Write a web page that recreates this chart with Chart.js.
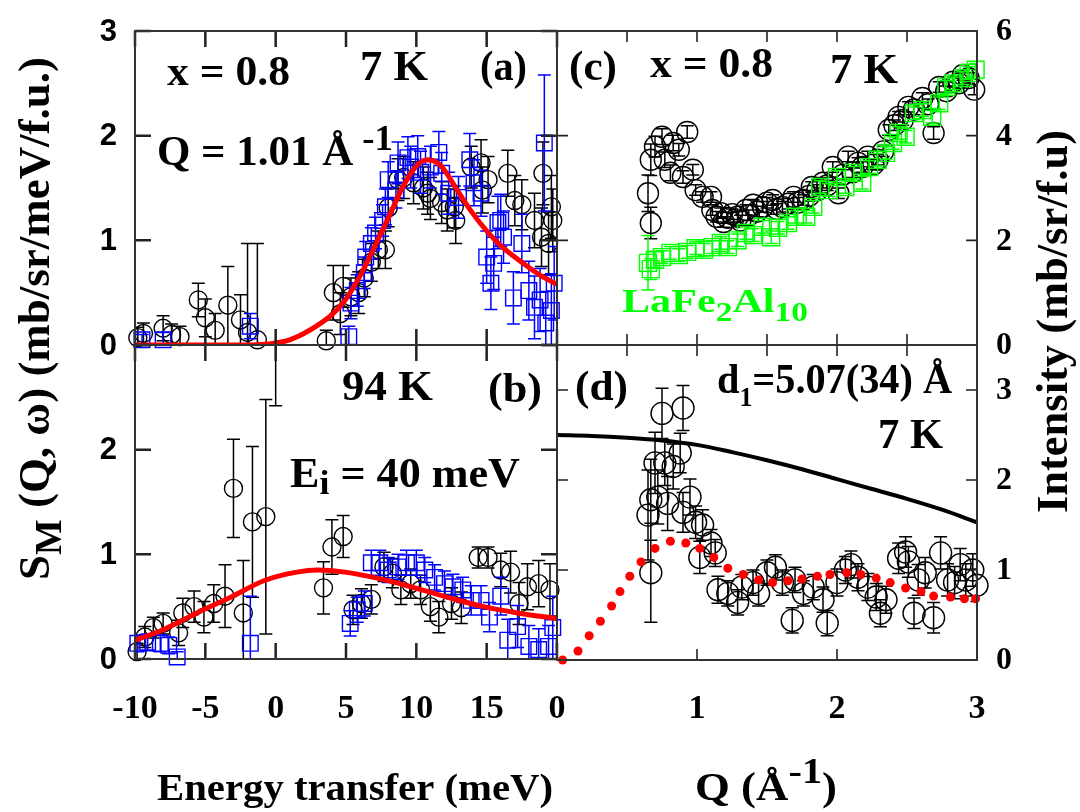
<!DOCTYPE html>
<html>
<head>
<meta charset="utf-8">
<script src="https://cdn.jsdelivr.net/npm/chart.js@4.4.0/dist/chart.umd.min.js"></script>
<style>
  html, body { margin: 0; padding: 0; background: #fff; }
  #wrap { position: relative; width: 1080px; height: 812px; overflow: hidden; }
  #wrap canvas { position: absolute; left: 0; top: 0; }
</style>
</head>
<body>
<div id="wrap">
  <canvas id="pa" width="1080" height="812"></canvas>
  <canvas id="pb" width="1080" height="812"></canvas>
  <canvas id="pc" width="1080" height="812"></canvas>
  <canvas id="pd" width="1080" height="812"></canvas>
</div>
<script>
// ---------- (a) x = 0.8, 7 K, Q = 1.01 Å^-1 ----------
const aCircE = [-9.8,-9.4,-8.0,-7.4,-6.8,-5.5,-5.0,-4.3,-3.4,-2.5,-2.0,-1.3,3.6,4.1,4.6,4.8,5.35,5.9,6.3,6.8,7.3,7.8,8.0,8.7,9.1,9.8,10.5,10.8,11.0,11.8,12.2,12.7,12.8,13.9,14.6,14.7,15.1,16.5,17.0,17.5,18.4,18.9,19.0,19.4,19.6,19.7];
const aCircS = [0.07,0.11,0.16,0.10,0.08,0.43,0.26,0.14,0.38,0.24,0.12,0.05,0.04,0.50,0.30,0.56,0.46,0.50,0.64,0.79,0.91,0.91,1.31,1.58,1.60,1.55,1.50,1.45,1.40,1.36,1.29,1.32,1.19,1.70,1.74,1.48,1.58,1.64,1.38,1.34,1.19,1.03,1.64,0.97,1.32,1.19];
const aCircErr = [0.10,0.10,0.12,0.10,0.10,0.16,0.18,0.16,0.37,0.24,0.85,0.92,0.10,0.26,0.20,0.20,0.18,0.20,0.18,0.18,0.18,0.18,0.18,0.20,0.20,0.20,0.20,0.20,0.20,0.20,0.20,0.20,0.22,0.20,0.22,0.22,0.22,0.22,0.24,0.24,0.26,0.28,0.30,0.30,0.30,0.30];
const aSqE = [-9.5,-8.0,-1.8,5.2,5.35,5.8,6.3,6.4,6.8,7.1,7.6,7.8,8.0,8.55,8.7,9.4,9.6,10.1,10.3,11.0,11.6,11.8,12.3,13.0,13.8,14.1,14.6,15.0,15.3,15.5,15.8,16.0,16.2,16.9,17.5,18.0,18.4,18.8,19.1,19.2,19.6,19.8];
const aSqS = [0.05,0.05,0.18,0.08,0.40,0.52,0.69,0.84,0.97,1.07,1.19,1.32,1.58,1.48,1.74,1.79,1.70,1.80,1.65,1.70,1.84,1.64,1.45,1.41,1.77,1.55,1.45,0.84,0.59,0.78,1.17,1.19,1.03,0.45,0.97,0.52,0.36,0.43,1.93,0.21,0.33,0.59];
const aSqErr = [0.05,0.07,0.12,0.10,0.15,0.15,0.15,0.15,0.15,0.15,0.15,0.17,0.17,0.17,0.20,0.20,0.20,0.20,0.20,0.20,0.20,0.20,0.20,0.20,0.25,0.22,0.22,0.25,0.25,0.25,0.25,0.25,0.25,0.25,0.28,0.28,0.30,0.30,0.65,0.30,0.35,0.35];
const aFitE = [-10,-6,-3,-1,0,1,2,3,4,5,6,7,8,9,10,10.8,11.5,12,13,14,15,16,17,18,19,20];
const aFitS = [0,0,0,0.005,0.02,0.05,0.11,0.19,0.29,0.44,0.66,0.93,1.21,1.50,1.71,1.77,1.74,1.67,1.46,1.26,1.09,0.95,0.84,0.74,0.65,0.58];

// ---------- (b) 94 K, Ei = 40 meV ----------
const bCircE = [-9.85,-9.3,-8.7,-8.0,-6.9,-6.6,-5.8,-5.1,-4.4,-3.6,-3.0,-2.3,-1.65,-0.7,0.0,3.4,4.0,4.8,5.5,6.1,6.8,7.7,8.3,8.9,9.6,10.3,11.0,11.6,12.5,13.2,14.4,15.1,16.0,16.7,17.3,17.9,18.7,19.5];
const bCircS = [0.07,0.21,0.30,0.34,0.25,0.44,0.50,0.40,0.53,0.60,1.63,0.44,1.31,1.36,3.45,0.68,1.07,1.17,0.47,0.53,0.57,0.88,0.82,0.66,0.72,0.66,0.50,0.40,0.53,0.49,0.97,0.97,0.85,0.83,0.53,0.69,0.72,0.66];
const bCircErr = [0.08,0.10,0.10,0.10,0.12,0.14,0.15,0.15,0.18,0.30,0.47,0.50,0.72,1.12,1.03,0.25,0.26,0.20,0.14,0.14,0.14,0.14,0.14,0.14,0.14,0.14,0.14,0.15,0.15,0.15,0.10,0.10,0.16,0.20,0.20,0.22,0.22,0.25];
const bSqE = [-9.8,-9.1,-8.2,-7.6,-7.0,-1.8,5.3,5.8,6.3,6.8,7.4,8.0,8.7,9.3,10.0,10.6,11.3,12.0,12.6,13.3,13.9,14.6,15.2,16.0,16.5,17.2,18.0,18.7,19.4,19.7];
const bSqS = [0.15,0.16,0.15,0.13,0.02,0.15,0.34,0.47,0.53,0.92,0.92,0.85,0.88,0.92,0.92,0.85,0.78,0.72,0.69,0.66,0.56,0.56,0.40,0.60,0.18,0.31,0.12,0.09,0.12,0.30];
const bSqErr = [0.08,0.08,0.08,0.08,0.05,0.45,0.12,0.12,0.12,0.12,0.12,0.12,0.12,0.12,0.12,0.12,0.12,0.12,0.12,0.12,0.14,0.14,0.14,0.18,0.20,0.20,0.20,0.20,0.20,0.30];
const bFitE = [-10,-8,-5.6,-3.2,-0.8,1.5,3.0,4.9,7.3,9.9,12.5,14.8,17.2,20];
const bFitS = [0.18,0.28,0.44,0.59,0.75,0.83,0.85,0.83,0.77,0.68,0.58,0.50,0.44,0.385];

// ---------- (c) x = 0.8 and LaFe2Al10, 7 K ----------
const cCircQ = [0.65,0.67,0.67,0.70,0.75,0.77,0.81,0.83,0.87,0.90,0.93,0.97,0.99,1.04,1.10,1.11,1.14,1.17,1.19,1.22,1.25,1.29,1.31,1.35,1.37,1.40,1.43,1.47,1.50,1.54,1.57,1.61,1.65,1.69,1.72,1.76,1.80,1.82,1.86,1.90,1.93,1.97,2.01,2.04,2.08,2.11,2.15,2.18,2.22,2.26,2.29,2.33,2.37,2.41,2.44,2.47,2.51,2.55,2.61,2.65,2.69,2.73,2.78,2.83,2.87,2.90,2.94,2.98];
const cCircI = [2.90,2.33,3.54,3.79,3.98,3.54,3.29,3.86,3.73,3.21,4.07,3.35,2.96,2.83,2.83,2.58,2.45,2.52,2.35,2.43,2.50,2.45,2.38,2.58,2.48,2.68,2.55,2.64,2.72,2.77,2.60,2.64,2.70,2.83,2.72,2.77,2.85,3.02,2.96,3.10,3.05,3.40,2.90,3.25,3.60,3.30,3.48,3.40,3.60,3.45,3.54,3.70,4.11,4.20,4.36,4.30,4.55,4.50,4.72,4.60,4.05,4.93,4.85,5.03,5.00,5.16,5.10,4.88];
const cCircErr = [0.35,0.30,0.30,0.20,0.15,0.15,0.15,0.15,0.12,0.12,0.12,0.10,0.10,0.10,0.10,0.10,0.10,0.10,0.10,0.10,0.10,0.10,0.10,0.10,0.10,0.10,0.10,0.10,0.10,0.10,0.10,0.10,0.10,0.10,0.10,0.10,0.10,0.10,0.10,0.10,0.10,0.10,0.10,0.10,0.10,0.10,0.10,0.10,0.10,0.10,0.10,0.10,0.10,0.10,0.10,0.10,0.10,0.10,0.10,0.10,0.12,0.10,0.10,0.10,0.10,0.10,0.10,0.10];
const cSqQ = [0.65,0.67,0.70,0.75,0.81,0.87,0.93,0.99,1.05,1.11,1.17,1.22,1.29,1.35,1.40,1.47,1.53,1.58,1.65,1.70,1.78,1.83,1.88,1.94,2.00,2.06,2.12,2.18,2.23,2.29,2.35,2.40,2.44,2.49,2.55,2.61,2.68,2.73,2.78,2.83,2.90,2.94,2.99];
const cSqI = [1.57,1.45,1.63,1.68,1.76,1.72,1.78,1.85,1.82,1.87,1.95,1.87,2.00,2.14,2.10,2.26,2.06,2.24,2.33,2.45,2.45,2.64,3.02,2.96,3.21,3.02,3.29,3.10,3.40,3.54,3.67,3.86,4.05,3.98,4.43,4.49,4.36,4.62,4.93,5.00,5.10,5.20,5.26];
const cSqErr = [0.52,0.20,0.15,0.12,0.12,0.12,0.12,0.12,0.12,0.12,0.12,0.12,0.12,0.12,0.12,0.12,0.12,0.12,0.12,0.12,0.12,0.12,0.12,0.12,0.12,0.12,0.12,0.12,0.12,0.12,0.12,0.12,0.12,0.12,0.12,0.12,0.12,0.12,0.12,0.12,0.12,0.12,0.12];

// ---------- (d) magnetic part, 7 K ----------
const dCircQ = [0.67,0.65,0.67,0.70,0.75,0.72,0.79,0.77,0.83,0.88,0.90,0.90,0.95,0.99,1.02,1.04,1.10,1.13,1.15,1.22,1.29,1.32,1.40,1.44,1.50,1.56,1.61,1.68,1.70,1.76,1.83,1.90,1.93,2.00,2.06,2.10,2.15,2.22,2.28,2.31,2.35,2.44,2.49,2.51,2.55,2.58,2.63,2.69,2.74,2.79,2.84,2.88,2.92,2.97,3.00];
const dCircI = [0.97,1.61,1.78,2.19,2.74,1.81,1.74,2.19,2.15,2.30,2.80,1.64,1.81,1.53,1.14,1.50,1.30,1.19,0.78,0.74,0.64,0.81,0.86,0.74,0.97,1.03,0.86,0.44,0.89,0.74,0.81,0.67,0.41,0.86,1.00,1.06,0.92,0.81,0.70,0.52,0.67,1.13,1.20,1.09,0.52,0.89,0.97,0.47,1.19,0.89,0.86,1.06,0.89,1.00,0.83];
const dCircErr = [0.55,0.50,0.45,0.34,0.28,0.30,0.30,0.25,0.25,0.22,0.25,0.22,0.20,0.18,0.18,0.17,0.15,0.15,0.15,0.14,0.14,0.14,0.14,0.14,0.14,0.14,0.14,0.14,0.14,0.14,0.14,0.14,0.14,0.15,0.15,0.15,0.15,0.15,0.15,0.15,0.15,0.17,0.17,0.17,0.17,0.17,0.17,0.17,0.18,0.18,0.18,0.18,0.18,0.18,0.18];
const dCalcQ = [0.04,0.15,0.23,0.31,0.39,0.45,0.52,0.60,0.70,0.81,0.92,1.02,1.12,1.22,1.33,1.44,1.54,1.65,1.75,1.86,1.95,2.07,2.17,2.28,2.38,2.49,2.60,2.69,2.81,2.91,2.99];
const dCalcI = [0.00,0.10,0.27,0.43,0.60,0.76,0.93,1.09,1.24,1.32,1.30,1.24,1.14,1.02,0.95,0.89,0.86,0.88,0.90,0.93,0.95,0.97,0.95,0.91,0.86,0.80,0.76,0.71,0.70,0.68,0.68];
const dFormQ = [0,0.25,0.5,0.75,1.0,1.25,1.5,1.75,2.0,2.25,2.5,2.75,3.0];
const dFormI = [2.50,2.49,2.47,2.44,2.39,2.31,2.22,2.12,2.01,1.90,1.79,1.67,1.53];

// ---------- ticks ----------
const energyTicks = [-10,-5,0,5,10,15,20];
const energyTickLabels = ['-10','-5','0','5','10','15'];
const sTicks = [0,1,2,3];
const qMinorTicks = [0,0.5,1,1.5,2,2.5,3];
const qTicks = [0,1,2,3];
const qTickLabels = ['0','1','2','3'];
const cTicks = [0,2,4,6];
const dTicks = [0,1,2,3];

const SERIF = '"Liberation Serif", "Times New Roman", serif';
const SANS = '"Liberation Sans", Arial, sans-serif';
const W = 1080, H = 812;

const pts = (xs, ys) => xs.map((x, i) => ({ x, y: ys[i] }));

function markers(xs, ys, errs, style, color, radius) {
  return {
    data: pts(xs, ys), showLine: false,
    pointStyle: style, pointRadius: radius, pointHoverRadius: radius,
    pointBorderColor: color, pointBackgroundColor: 'rgba(0,0,0,0)', pointBorderWidth: 1.4,
    errors: errs, errColor: color, clip: 12
  };
}
function curve(xs, ys, color, width) {
  return {
    data: pts(xs, ys), showLine: true, borderColor: color, borderWidth: width,
    pointRadius: 0, cubicInterpolationMode: 'monotone', fill: false
  };
}

// vertical error bars with caps, drawn just before each dataset's markers
const errorBars = {
  id: 'errorBars',
  beforeDatasetDraw(chart, args) {
    const ds = chart.data.datasets[args.index];
    if (!ds.errors) return;
    const { ctx, chartArea: ca, scales: { x, y } } = chart;
    const cap = ds.capHalf || 6.5;
    ctx.save();
    ctx.beginPath();
    ctx.rect(ca.left, ca.top, ca.right - ca.left, ca.bottom - ca.top);
    ctx.clip();
    ctx.strokeStyle = ds.errColor;
    ctx.lineWidth = 1.5;
    ctx.beginPath();
    ds.data.forEach((p, i) => {
      const e = ds.errors[i];
      const px = x.getPixelForValue(p.x);
      const y1 = y.getPixelForValue(p.y + e), y2 = y.getPixelForValue(p.y - e);
      ctx.moveTo(px, y1); ctx.lineTo(px, y2);
      ctx.moveTo(px - cap, y1); ctx.lineTo(px + cap, y1);
      ctx.moveTo(px - cap, y2); ctx.lineTo(px + cap, y2);
    });
    ctx.stroke();
    ctx.restore();
  }
};

// rich text: parts with optional size factor s and baseline offset dy, fitted to width w
function drawRich(ctx, t) {
  const fam = t.family || SERIF;
  const parts = t.parts.map(p => (typeof p === 'string' ? { t: p } : Object.assign({}, p)));
  let nat = 0;
  parts.forEach(p => {
    ctx.font = `bold ${Math.round(t.size * (p.s || 1))}px ${fam}`;
    p.w = ctx.measureText(p.t).width;
    nat += p.w;
  });
  const sx = t.w ? t.w / nat : 1;
  ctx.save();
  ctx.translate(t.x, t.y);
  if (t.rot) ctx.rotate(t.rot);
  ctx.scale(sx, 1);
  ctx.fillStyle = t.color || '#000';
  ctx.textAlign = 'left';
  ctx.textBaseline = 'alphabetic';
  let cx = 0;
  parts.forEach(p => {
    ctx.font = `bold ${Math.round(t.size * (p.s || 1))}px ${fam}`;
    ctx.fillText(p.t, cx, p.dy || 0);
    cx += p.w;
  });
  ctx.restore();
}

function makeDeco(name, d) {
  return {
    id: 'deco_' + name,
    afterDraw(chart) {
      const { ctx, chartArea: ca, scales: { x, y } } = chart;
      ctx.save();
      // ticks
      ctx.strokeStyle = '#222';
      ctx.lineWidth = d.tickWidth;
      ctx.beginPath();
      (d.xBottom || []).forEach(v => { const p = x.getPixelForValue(v); ctx.moveTo(p, ca.bottom); ctx.lineTo(p, ca.bottom - d.len); });
      (d.xTop || []).forEach(v => { const p = x.getPixelForValue(v); ctx.moveTo(p, ca.top); ctx.lineTo(p, ca.top + d.len); });
      (d.yLeft || []).forEach(v => { const p = y.getPixelForValue(v); ctx.moveTo(ca.left, p); ctx.lineTo(ca.left + d.len, p); });
      (d.yRight || []).forEach(v => { const p = y.getPixelForValue(v); ctx.moveTo(ca.right, p); ctx.lineTo(ca.right - d.len, p); });
      ctx.stroke();
      // frame
      ctx.lineWidth = 2;
      ctx.strokeStyle = '#333';
      ctx.strokeRect(ca.left, ca.top, ca.right - ca.left, ca.bottom - ca.top);
      // tick labels
      ctx.fillStyle = '#000';
      if (d.yLabels) {
        const L = d.yLabels;
        ctx.font = L.font; ctx.textAlign = L.align; ctx.textBaseline = 'middle';
        L.vals.forEach((v, i) => ctx.fillText(L.texts[i], L.x, y.getPixelForValue(v) + 1));
      }
      if (d.xLabels) {
        const L = d.xLabels;
        ctx.font = L.font; ctx.textAlign = 'center'; ctx.textBaseline = 'alphabetic';
        L.vals.forEach((v, i) => ctx.fillText(L.texts[i], x.getPixelForValue(v), L.y));
      }
      (d.texts || []).forEach(t => drawRich(ctx, t));
      ctx.restore();
    }
  };
}

function makeChart(id, area, xr, yr, datasets, deco) {
  return new Chart(document.getElementById(id), {
    type: 'scatter',
    data: { datasets },
    options: {
      responsive: false, animation: false, devicePixelRatio: 1, events: [],
      layout: { padding: { left: area.l, top: area.t, right: W - area.r, bottom: H - area.b } },
      plugins: { legend: { display: false }, tooltip: { enabled: false } },
      scales: {
        x: { type: 'linear', min: xr[0], max: xr[1], display: false },
        y: { type: 'linear', min: yr[0], max: yr[1], display: false }
      }
    },
    plugins: [errorBars, makeDeco(id, deco)]
  });
}

const leftTickFont = `bold 31px ${SANS}`;
const rightTickFont = `bold 32px ${SERIF}`;
const bottomTickFont = `bold 34px ${SERIF}`;

// (a)
makeChart('pa', { l: 135, t: 31, r: 557, b: 345 }, [-10, 20], [0, 3], [
  curve(aFitE, aFitS, '#ff0000', 5),
  markers(aSqE, aSqS, aSqErr, 'rect', '#0000ff', 11),
  markers(aCircE, aCircS, aCircErr, 'circle', '#000000', 9)
], {
  len: 16, tickWidth: 2.5,
  xTop: energyTicks, xBottom: energyTicks, yLeft: sTicks, yRight: sTicks,
  yLabels: { vals: sTicks, texts: ['0', '1', '2', '3'], x: 117, align: 'right', font: leftTickFont },
  texts: [
    { parts: ['x = 0.8'], x: 167, y: 85, size: 42, w: 123 },
    { parts: ['7 K'], x: 360, y: 80, size: 42, w: 68 },
    { parts: ['(a)'], x: 480, y: 80, size: 42, w: 47 },
    { parts: ['Q = 1.01 Å', { t: ' -1', s: 0.85, dy: -15 }], x: 157, y: 165, size: 42, w: 236 }
  ]
});

// (b)
makeChart('pb', { l: 135, t: 345, r: 557, b: 659 }, [-10, 20], [0, 3], [
  curve(bFitE, bFitS, '#ff0000', 5),
  markers(bSqE, bSqS, bSqErr, 'rect', '#0000ff', 11),
  markers(bCircE, bCircS, bCircErr, 'circle', '#000000', 9)
], {
  len: 16, tickWidth: 2.5,
  xTop: energyTicks, xBottom: energyTicks, yLeft: sTicks, yRight: sTicks,
  yLabels: { vals: [0, 1, 2], texts: ['0', '1', '2'], x: 117, align: 'right', font: leftTickFont },
  xLabels: { vals: [-10, -5, 0, 5, 10, 15], texts: energyTickLabels, y: 718, font: bottomTickFont },
  texts: [
    { parts: ['94 K'], x: 342, y: 400, size: 42, w: 91 },
    { parts: ['(b)'], x: 488, y: 402, size: 42, w: 54 },
    { parts: ['E', { t: 'i', s: 0.8, dy: 7 }, ' = 40 meV'], x: 290, y: 487, size: 42, w: 230 },
    { parts: ['Energy transfer (meV)'], x: 157, y: 800, size: 38, w: 396 },
    { parts: ['S', { t: 'M', s: 0.85, dy: 12 }, ' (Q, ω) (mb/sr/meV/f.u.)'], x: 49, y: 580, size: 44, w: 523, rot: -Math.PI / 2 }
  ]
});

// (c)
makeChart('pc', { l: 557, t: 31, r: 977, b: 345 }, [0, 3], [0, 6], [
  markers(cSqQ, cSqI, cSqErr, 'rect', '#00ff00', 12),
  markers(cCircQ, cCircI, cCircErr, 'circle', '#000000', 10.5)
], {
  len: 11, tickWidth: 1.6,
  xTop: qMinorTicks, xBottom: qMinorTicks, yLeft: cTicks, yRight: cTicks,
  yLabels: { vals: cTicks, texts: ['0', '2', '4', '6'], x: 996, align: 'left', font: rightTickFont },
  texts: [
    { parts: ['(c)'], x: 569, y: 80, size: 42, w: 48 },
    { parts: ['x = 0.8'], x: 650, y: 77, size: 42, w: 123 },
    { parts: ['7 K'], x: 830, y: 83, size: 42, w: 68 },
    { parts: ['LaFe', { t: '2', s: 0.8, dy: 9 }, 'Al', { t: '10', s: 0.8, dy: 9 }], x: 622, y: 312, size: 34, w: 186, color: '#00ff00' },
    { parts: ['Intensity (mb/sr/f.u)'], x: 1067, y: 513, size: 44, w: 383, rot: -Math.PI / 2 }
  ]
});

// (d)
makeChart('pd', { l: 557, t: 345, r: 977, b: 660 }, [0, 3], [0, 3.5], [
  curve(dFormQ, dFormI, '#000000', 4),
  { data: pts(dCalcQ, dCalcI), showLine: false, pointStyle: 'circle', pointRadius: 4.5,
    pointBackgroundColor: '#ff0000', pointBorderColor: '#ff0000', pointBorderWidth: 0, clip: 8 },
  markers(dCircQ, dCircI, dCircErr, 'circle', '#000000', 11)
], {
  len: 11, tickWidth: 1.6,
  xTop: qMinorTicks, xBottom: qTicks, yLeft: dTicks, yRight: dTicks,
  yLabels: { vals: dTicks, texts: ['0', '1', '2', '3'], x: 996, align: 'left', font: rightTickFont },
  xLabels: { vals: qTicks, texts: qTickLabels, y: 718, font: bottomTickFont },
  texts: [
    { parts: ['(d)'], x: 575, y: 400, size: 42, w: 53 },
    { parts: ['d', { t: '1', s: 0.65, dy: 13 }, '=5.07(34) Å'], x: 717, y: 393, size: 42, w: 235 },
    { parts: ['7 K'], x: 878, y: 448, size: 42, w: 65 },
    { parts: ['Q (Å', { t: '-1', s: 0.9, dy: -17 }, ')'], x: 695, y: 800, size: 40, w: 142 }
  ]
});
</script>
</body>
</html>
